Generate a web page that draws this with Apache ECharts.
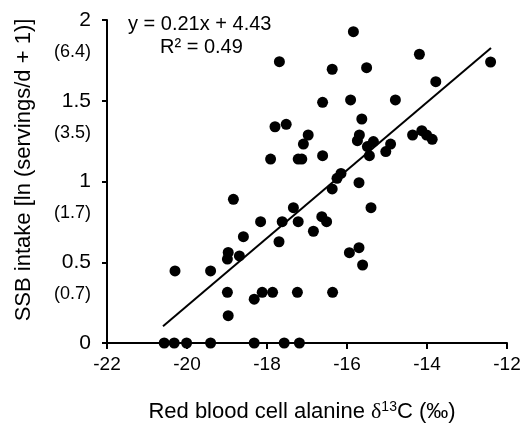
<!DOCTYPE html>
<html>
<head>
<meta charset="utf-8">
<script src="https://cdn.jsdelivr.net/npm/echarts@6/dist/echarts.min.js"></script>
<style>
html,body{margin:0;padding:0;background:#fff;}
#chart{width:523px;height:430px;}
</style>
</head>
<body>
<div id="chart"></div>
<script>
// Data
var xValues = [-17.69,-17.80,-17.52,-16.97,-17.09,-17.91,-17.22,-17.13,-15.84,-14.19,-12.41,-16.37,-15.51,-13.78,-16.61,-15.91,-14.79,-15.63,-15.69,-15.74,-15.34,-15.49,-14.91,-15.03,-15.44,-14.36,-14.13,-14.01,-13.87,-16.61,-16.25,-16.15,-15.70,-16.37,-15.40,-18.84,-17.34,-18.16,-17.62,-17.22,-16.63,-16.51,-16.84,-18.59,-17.70,-18.97,-18.99,-18.69,-20.30,-19.41,-18.99,-18.32,-18.12,-17.86,-17.24,-18.97,-15.94,-15.70,-15.61,-16.36,-20.57,-20.32,-20.01,-19.41,-18.32,-17.57,-17.19];
var yValues = [1.742,1.339,1.354,1.288,1.232,1.139,1.139,1.139,1.928,1.788,1.740,1.695,1.705,1.618,1.490,1.505,1.505,1.387,1.288,1.253,1.247,1.216,1.232,1.185,1.160,1.288,1.315,1.288,1.261,1.160,1.020,1.050,0.993,0.954,0.838,0.890,0.838,0.751,0.751,0.751,0.782,0.751,0.692,0.658,0.627,0.561,0.520,0.539,0.446,0.446,0.314,0.271,0.314,0.314,0.314,0.169,0.559,0.590,0.483,0.314,0,0,0,0,0,0,0];
var fitSlope = 0.21;
var fitIntercept = 4.43;
var fitXRange = [-20.6, -12.4];
var yTickLabels = ['0','0.5','1','1.5','2'];
var yBackLabels = ['','(0.7)','(1.7)','(3.5)','(6.4)'];
var equationText = 'y = 0.21x + 4.43';
var r2Text = 'R² = 0.49';

var scatterData = xValues.map(function(x,i){return [x, yValues[i]];});
var fitData = fitXRange.map(function(x){return [x, fitSlope*x + fitIntercept];});

var chart = echarts.init(document.getElementById('chart'));
var font = 'Liberation Sans, Arial, sans-serif';
chart.setOption({
  animation:false,
  backgroundColor:'#fff',
  grid:{left:107,right:16,top:20,bottom:87,containLabel:false,outerBoundsMode:'none'},
  xAxis:{
    type:'value',min:-22,max:-12,interval:2,
    axisLine:{lineStyle:{color:'#000',width:2}},
    axisTick:{show:true,inside:false,length:6,lineStyle:{color:'#000',width:2}},
    splitLine:{show:false},
    axisLabel:{color:'#000',fontSize:19,fontFamily:font,margin:12,showMinLabel:true,showMaxLabel:true}
  },
  yAxis:[{
    type:'value',min:0,max:2,interval:0.5,position:'left',
    axisLine:{show:true,lineStyle:{color:'#000',width:2}},
    axisTick:{show:true,inside:false,length:5,lineStyle:{color:'#000',width:2}},
    splitLine:{show:false},
    axisLabel:{
      color:'#000',fontFamily:font,fontSize:21,margin:16,showMinLabel:true,showMaxLabel:true,
      formatter:function(v){ return yTickLabels[Math.round(v/0.5)]; }
    }
  },{
    type:'value',min:0,max:2,interval:0.5,position:'left',offset:0,
    axisLine:{show:false},axisTick:{show:false},splitLine:{show:false},
    axisLabel:{
      color:'#000',fontFamily:font,margin:16,showMinLabel:true,showMaxLabel:true,
      formatter:function(v){
        var b = yBackLabels[Math.round(v/0.5)];
        return b ? '{e|}\n{b|'+b+'}' : '';
      },
      rich:{
        b:{fontSize:18,lineHeight:10,color:'#000',fontFamily:font,align:'right'},
        e:{fontSize:18,lineHeight:64}
      }
    }
  }],
  graphic:[
    {type:'text',left:128,top:14,style:{text:equationText,fontSize:20,fontFamily:font,fill:'#000'}},
    {type:'text',left:160,top:37,style:{text:r2Text,fontSize:20,fontFamily:font,fill:'#000'}},
    {type:'text',x:24,y:170,rotation:Math.PI/2,style:{text:'SSB intake [ln (servings/d + 1)]',fontSize:22,fontFamily:font,fill:'#000',align:'center',verticalAlign:'middle'}},
    {type:'text',x:302,y:412,style:{
      text:'{t|Red blood cell alanine }{d|δ}{s|13}{t|C (‰)}',
      align:'center',verticalAlign:'middle',
      rich:{
        t:{fontSize:22,fontFamily:font,fill:'#000'},
        d:{fontSize:22,fontFamily:'Liberation Serif, serif',fill:'#000'},
        s:{fontSize:14,fontFamily:font,fill:'#000',verticalAlign:'top',padding:[0,0,9,0]}
      }
    }}
  ],
  series:[
    {type:'scatter',data:scatterData,symbol:'circle',symbolSize:11,itemStyle:{color:'#000',opacity:1},z:3},
    {type:'line',data:fitData,symbol:'none',lineStyle:{color:'#000',width:2},z:2}
  ]
});
</script>
</body>
</html>
